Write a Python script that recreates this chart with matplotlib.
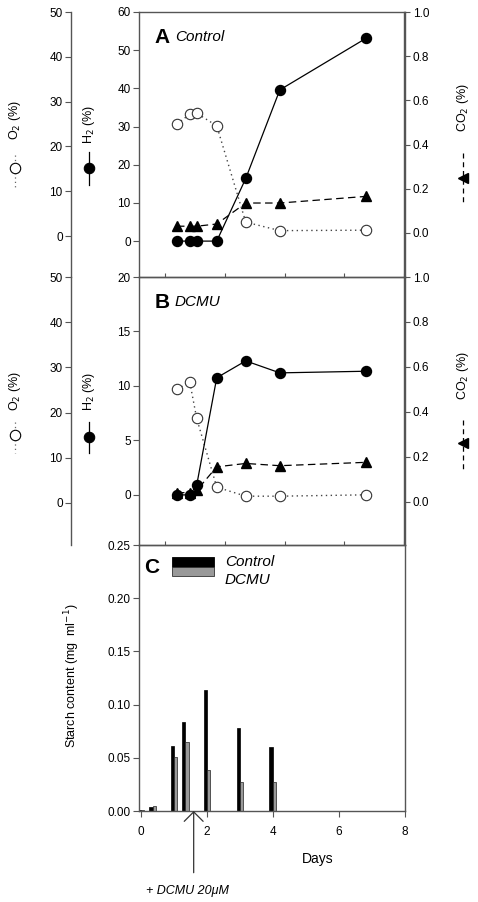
import matplotlib
matplotlib.use("Agg")
import matplotlib.pyplot as plt
from matplotlib.lines import Line2D
from matplotlib.patches import Rectangle
from matplotlib.ticker import FormatStrFormatter

plt.rcParams["font.family"] = ["Liberation Sans", "DejaVu Sans"]
plt.rcParams["font.size"] = 8.5

# ----------------------------------------------------------------------
# Data
# ----------------------------------------------------------------------
gas_days = [0.40, 0.83, 1.06, 1.73, 2.70, 3.84, 6.72]

h2_control = [0, 0, 0, 0, 16.4, 39.6, 53.1]
co2_control = [0.03, 0.03, 0.03, 0.04, 0.135, 0.135, 0.165]
o2_control = [25.0, 27.2, 27.4, 24.6, 3.1, 1.2, 1.3]

h2_dcmu = [0, 0, 0.9, 10.75, 12.3, 11.2, 11.35]
co2_dcmu = [0.04, 0.04, 0.05, 0.155, 0.17, 0.16, 0.175]
o2_dcmu = [25.2, 26.7, 18.7, 3.5, 1.5, 1.5, 1.8]

starch_days = [0, 0.35, 1.0, 1.35, 2.0, 3.0, 4.0]
starch_control = [0.001, 0.004, 0.061, 0.084, 0.114, 0.078, 0.060]
starch_dcmu = [0.001, 0.005, 0.051, 0.065, 0.039, 0.027, 0.027]

starch_labels = ["Control", "DCMU"]
dcmu_day = 1.6

W, H = 478, 902
SPINE = "#555555"
DOT = (0, (1, 2.5))
DASH = (0, (6, 3.5))
GREY = "#999999"


def fx(px):
    return px / W


def fy(py):
    return 1 - py / H


def style_ticks(ax, axis="y", direction="out"):
    ax.tick_params(axis=axis, direction=direction, length=4, width=0.8,
                   color=SPINE, labelsize=8.5, pad=2)


def gas_panel(top, bottom, h2, co2, o2, h2_lim, h2_ticks, co2_lim, o2_lim,
              letter, title):
    left, right = fx(139), fx(404.5)
    ax = fig.add_axes([left, fy(bottom), right - left, fy(top) - fy(bottom)])
    ax2 = ax.twinx()
    ax3 = ax.twinx()

    ax.plot(gas_days, h2, "-", color="black", lw=0.9, marker="o", ms=7.2,
            mfc="black", mec="black", zorder=5)
    ax2.plot(gas_days, co2, linestyle=DASH, color="black", lw=0.9,
             marker="^", ms=7, mfc="black", mec="black")
    ax3.plot(gas_days, o2, linestyle=DOT, color="#444444", lw=1.0,
             marker="o", ms=7.5, mfc="white", mec="#333333", mew=0.8)

    ax.set_xlim(-0.87, 8.01)
    ax.set_ylim(*h2_lim)
    ax.set_yticks(h2_ticks)
    ax2.set_ylim(*co2_lim)
    ax2.set_yticks([0, 0.2, 0.4, 0.6, 0.8, 1.0])
    ax2.yaxis.set_major_formatter(FormatStrFormatter("%.1f"))
    ax3.set_ylim(*o2_lim)
    ax3.set_yticks([0, 10, 20, 30, 40, 50])

    for a in (ax, ax2, ax3):
        for s in a.spines.values():
            s.set_color(SPINE)
            s.set_linewidth(1.0)
    for s in ("top", "right", "bottom"):
        ax2.spines[s].set_visible(False)
        ax3.spines[s].set_visible(False)
    ax2.spines["left"].set_visible(False)
    ax2.spines["right"].set_visible(True)
    ax3.spines["right"].set_visible(False)
    ax3.spines["left"].set_visible(True)
    ax3.spines["left"].set_position(("axes", (71 - 139) / (404.5 - 139)))
    ax3.yaxis.set_ticks_position("left")
    ax3.yaxis.set_label_position("left")

    style_ticks(ax)
    style_ticks(ax2)
    style_ticks(ax3)
    ax.set_xticks([0, 2, 4, 6, 8])
    ax.tick_params(axis="x", direction="in", length=3, width=0.8,
                   color=SPINE, labelbottom=False)
    ax3.patch.set_visible(False)
    ax2.patch.set_visible(False)
    ax.set_zorder(3)
    ax.patch.set_visible(False)

    ax.text(0.06, 0.905, letter, transform=ax.transAxes, fontsize=15,
            fontweight="bold", va="center", ha="left")
    ax.text(0.135, 0.905, title, transform=ax.transAxes, fontsize=11,
            style="italic", va="center", ha="left")
    return ax


fig = plt.figure(figsize=(W / 100, H / 100), dpi=100)

gas_panel(12, 277, h2_control, co2_control, o2_control,
          (-9.4, 60), [0, 10, 20, 30, 40, 50, 60], (-0.2, 1.0), (-9.15, 50),
          "A", "Control")
gas_panel(277, 545, h2_dcmu, co2_dcmu, o2_dcmu,
          (-4.6, 20), [0, 5, 10, 15, 20], (-0.193, 1.0), (-9.3, 50),
          "B", "DCMU")


# axis labels with series symbols
def symbol_label(x, ylab, ysym, y0, y1, text, ls, marker, mfc, color="black"):
    fig.text(fx(x), fy(ylab), text, rotation=90, ha="center", va="center",
             fontsize=9)
    fig.add_artist(Line2D([fx(x), fx(x)], [fy(y0), fy(y1)], color=color,
                          lw=0.9, linestyle=ls, transform=fig.transFigure))
    fig.add_artist(Line2D([fx(x)], [fy(ysym)], marker=marker, ms=7.5,
                          mfc=mfc, mec="black", mew=0.8, linestyle="none",
                          transform=fig.transFigure))


for (ylab, ysym, y0, y1) in [(120, 168, 155, 190), (391, 435, 422, 453)]:
    symbol_label(15, ylab, ysym, y0, y1, "O$_2$ (%)", DOT, "o", "white",
                 color="#666666")
for (ylab, ysym, y0, y1) in [(124, 168, 152, 185), (391, 437, 422, 453)]:
    symbol_label(89, ylab, ysym, y0, y1, "H$_2$ (%)", "-", "o", "black")
for (ylab, ysym, y0, y1) in [(108, 178, 153, 205), (376, 443, 420, 472)]:
    fig.text(fx(463), fy(ylab), "CO$_2$ (%)", rotation=90, ha="center",
             va="center", fontsize=9)
    fig.add_artist(Line2D([fx(463), fx(463)], [fy(y0), fy(y1)],
                          color="black", lw=0.9, linestyle=(0, (4, 3)),
                          transform=fig.transFigure))
    fig.add_artist(Line2D([fx(463)], [fy(ysym)], marker="<", ms=7,
                          mfc="black", mec="black", linestyle="none",
                          transform=fig.transFigure))

# ----------------------------------------------------------------------
# Panel C: starch
# ----------------------------------------------------------------------
left, right = fx(139), fx(404.5)
axc = fig.add_axes([left, fy(811), right - left, fy(545) - fy(811)])
bw = 0.1
axc.bar([d - bw / 2 for d in starch_days], starch_control, width=bw,
        color="black", edgecolor="black", lw=0.5)
axc.bar([d + bw / 2 for d in starch_days], starch_dcmu, width=bw,
        color=GREY, edgecolor="#222222", lw=0.5)
axc.set_xlim(-0.06, 8)
axc.set_ylim(0, 0.25)
axc.set_xticks([0, 2, 4, 6, 8])
axc.set_yticks([0, 0.05, 0.10, 0.15, 0.20, 0.25])
axc.yaxis.set_major_formatter(FormatStrFormatter("%.2f"))
for s in axc.spines.values():
    s.set_color(SPINE)
    s.set_linewidth(1.0)
style_ticks(axc, "both")
axc.tick_params(axis="x", pad=7)
axc.set_xlabel("Days", fontsize=10)
axc.xaxis.set_label_coords((318 - 139) / (404.5 - 139), (811 - 852) / 266)
fig.text(fx(72), fy(676), "Starch content (mg  ml$^{-1}$)", rotation=90,
         ha="center", va="center", fontsize=9)
axc.text(0.02, 0.915, "C", transform=axc.transAxes, fontsize=15,
         fontweight="bold", va="center", ha="left")


# hand-made legend, like the original
def ax_x(px):
    return (px - 139) / 265.5


def ax_y(py):
    return (811 - py) / 266


for (color, edge, y_top, y_bot, y_txt, lab) in [
        ("black", "black", 557, 567, 561.5, starch_labels[0]),
        (GREY, "#333333", 567, 576, 580, starch_labels[1])]:
    axc.add_patch(Rectangle((ax_x(171.7), ax_y(y_bot)),
                            ax_x(214) - ax_x(171.7), ax_y(y_top) - ax_y(y_bot),
                            transform=axc.transAxes, facecolor=color,
                            edgecolor=edge, lw=0.6))
    axc.text(ax_x(225), ax_y(y_txt), lab, transform=axc.transAxes,
             fontsize=11, style="italic", ha="left", va="center")

# DCMU addition arrow
axc.annotate("", xy=(dcmu_day, 0), xytext=(dcmu_day, -0.058),
             annotation_clip=False,
             arrowprops=dict(arrowstyle="->,head_length=0.8,head_width=0.8",
                             color="#333333", lw=0.9, shrinkA=0, shrinkB=0))
axc.text(dcmu_day - 0.18, -0.075, "+ DCMU 20\u03bcM", style="italic",
         fontsize=9, ha="center", va="center", clip_on=False)

fig.savefig("out.png", dpi=100)
